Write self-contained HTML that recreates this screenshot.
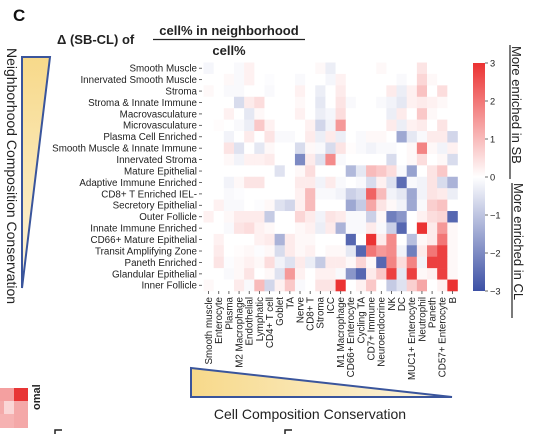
<!DOCTYPE html>
<html><head><meta charset="utf-8"><style>
html,body{margin:0;padding:0;background:#fff;}
svg{display:block;font-family:"Liberation Sans",sans-serif;}
</style></head><body>
<svg id="chart" width="546" height="434" viewBox="0 0 546 434">
<defs>
<linearGradient id="cbar" x1="0" y1="0" x2="0" y2="1">
<stop offset="0" stop-color="rgb(235,50,50)"/><stop offset="0.5" stop-color="#ffffff"/><stop offset="1" stop-color="rgb(60,80,165)"/>
</linearGradient>
<linearGradient id="tri-left" x1="0" y1="0" x2="0" y2="1">
<stop offset="0" stop-color="#f7d98a"/><stop offset="1" stop-color="#fdf4dc"/>
</linearGradient>
<linearGradient id="tri-bottom" x1="0" y1="0" x2="1" y2="0">
<stop offset="0" stop-color="#f7d98a"/><stop offset="1" stop-color="#fdf6e4"/>
</linearGradient>
</defs>
<text x="13" y="21" font-size="17" font-weight="bold" fill="#111">C</text>
<text x="57" y="44" font-size="13" font-weight="bold" fill="#222">Δ (SB-CL) of</text>
<text x="229" y="35" font-size="13" font-weight="bold" fill="#222" text-anchor="middle">cell% in neighborhood</text>
<line x1="153" y1="39.5" x2="305" y2="39.5" stroke="#222" stroke-width="1.2"/>
<text x="229" y="55" font-size="13" font-weight="bold" fill="#222" text-anchor="middle">cell%</text>

<text transform="translate(7,176) rotate(90)" font-size="14" fill="#222" text-anchor="middle">Neighborhood Composition Conservation</text>
<polygon points="22,57 50,57 22,288" fill="url(#tri-left)" stroke="#3a559c" stroke-width="2"/>

<polygon points="191,368 191,397 452,397" fill="url(#tri-bottom)" stroke="#3a559c" stroke-width="2"/>
<text x="310" y="419" font-size="14" fill="#222" text-anchor="middle">Cell Composition Conservation</text>

<g id="heat"></g>
<g id="rowlabels"></g>
<g id="collabels"></g>

<rect x="473" y="63" width="12" height="228" fill="url(#cbar)"/>
<g id="cbticks"></g>

<text transform="translate(512,46) rotate(90)" font-size="13" fill="#222">More enriched in SB</text>
<line x1="510" y1="45" x2="510" y2="179" stroke="#222" stroke-width="1.2"/>
<text transform="translate(514,183) rotate(90)" font-size="13" fill="#222">More enriched in CL</text>
<line x1="512" y1="183" x2="512" y2="318" stroke="#222" stroke-width="1.2"/>

<g>
<rect x="0" y="388" width="14" height="13" fill="#f4a0a0"/>
<rect x="14" y="388" width="14" height="13" fill="#e83535"/>
<rect x="0" y="401" width="4" height="13" fill="#f4aaaa"/>
<rect x="4" y="401" width="10" height="13" fill="#fad6d6"/>
<rect x="14" y="401" width="14" height="13" fill="#f4a8a8"/>
<rect x="0" y="414" width="14" height="14" fill="#f6b2b2"/>
<rect x="14" y="414" width="14" height="14" fill="#f4a8a8"/>
<text transform="translate(40,410) rotate(-90)" font-size="11" font-weight="bold" fill="#222">omal</text>
<path d="M55,434 V430 H62" stroke="#222" stroke-width="1.5" fill="none"/>
<path d="M285,434 V430 H292" stroke="#222" stroke-width="1.5" fill="none"/>
</g>
</svg>
<script>
const rowNames=["Smooth Muscle","Innervated Smooth Muscle","Stroma","Stroma & Innate Immune","Macrovasculature","Microvasculature","Plasma Cell Enriched","Smooth Muscle & Innate Immune","Innervated Stroma","Mature Epithelial","Adaptive Immune Enriched","CD8+ T Enriched IEL-","Secretory Epithelial","Outer Follicle","Innate Immune Enriched","CD66+ Mature Epithelial","Transit Amplifying Zone","Paneth Enriched","Glandular Epithelial","Inner Follicle"];
const colNames=["Smooth muscle","Enterocyte","Plasma","M2 Macrophage","Endothelial","Lymphatic","CD4+ T cell","Goblet","TA","Nerve","CD8+ T","Stroma","ICC","M1 Macrophage","CD66+ Enterocyte","Cycling TA","CD7+ Immune","Neuroendocrine","NK","DC","MUC1+ Enterocyte","Neutrophil","Paneth","CD57+ Enterocyte","B"];
const colorTicks=[3,2,1,0,-1,-2,-3];
const r0=[-0.15,0,0,-0.1,0.2,0,0,0,0,0,0,0.1,-0.3,0,0,0,0,0.1,0,0,0,0.4,0,0,0];
const r1=[0,0,0.1,-0.1,0.2,0,-0.05,0,0,-0.1,0,0,-0.15,0.2,0,0,0,0,0,-0.1,0,0.6,0.1,0,0];
const r2=[0.1,0,-0.1,-0.1,0,0,-0.1,0,0,0.2,0,-0.3,0,0.3,0,0,0,0,0.3,-0.3,0.2,0.9,0,0.5,0];
const r3=[0,0,0,-0.6,0.3,0.5,0,0,0,0.1,0,-0.4,0,0.4,-0.1,0,0,-0.1,-0.2,-0.4,0.2,0.3,0.2,0.1,0];
const r4=[0,0,0.2,0,-0.4,0.1,0,0,0,0.2,0,-0.3,-0.15,0.5,0,0,0,0,-0.3,0.3,0,0.8,0.1,0,0];
const r5=[0,0.05,0,-0.1,-0.3,0.8,0.2,0,0,0,0.2,-0.7,-0.2,1.5,0,0,0,0,0.3,-0.3,0.2,0.3,0,0.4,0];
const r6=[0,0,-0.2,0,0.3,0,0.4,-0.1,-0.1,0,0.3,-0.3,0.3,-0.3,0,-0.1,0.1,0.1,0,-1.5,-0.4,-0.1,0.3,0.3,-0.7];
const r7=[0,0,0.4,-0.5,0,-0.4,0.1,0,0,-0.6,0.1,-0.1,-0.6,0.4,0.05,-0.1,-0.2,-0.1,-0.1,0,0.1,1.8,0.1,-0.2,0.2];
const r8=[0,0,0.1,-0.2,0.2,0.2,0.3,0,0,-2.0,0.3,-0.5,1.7,-0.1,0,0,0,0,-0.6,0,0.1,0.5,0,0.1,-0.6];
const r9=[0,0,0,0,0,0,0,-0.5,0,0.1,0.5,0,0,0,-1.2,-0.4,1.0,0.8,0.5,-0.1,-1.6,0,0.4,0.8,0];
const r10=[0,0,-0.2,0.1,0.4,0.4,0,0,0,0.3,0.3,-0.2,0.3,-0.1,0,-0.1,-0.6,0.2,-0.5,-2.5,-0.1,-0.2,0.4,-0.6,-1.3];
const r11=[0,0,-0.1,-0.05,0,0,0,0,0,0.2,1.0,-0.1,-0.1,-0.2,-0.8,-0.6,2.3,1.0,-0.2,-0.4,-1.5,-0.2,0.4,0.3,-0.3];
const r12=[0,0.2,-0.1,-0.1,0,-0.05,0.1,-0.5,-0.7,0.2,1.0,0,0,0,-1.5,-0.9,1.3,0.4,0.1,-0.2,-1.5,-0.1,0.7,0.9,0];
const r13=[0.2,0,0.1,0.3,0.3,0.3,-0.9,0,0,0.6,0.3,-0.2,0.4,0.3,-0.1,-0.1,-0.8,0.1,-2.2,-1.8,0,0.2,0.5,0.6,-2.6];
const r14=[0,0,-0.1,0.4,0.5,0.2,0.1,0,0,0.1,0.2,-0.3,0.3,-1.3,-0.1,-0.1,0.3,-0.1,-0.8,-2.6,0,3.0,0.3,1.5,0.1];
const r15=[0,0.2,0,0,0,0.2,0.3,-1.3,0.3,0.1,0.1,0,0,0,-2.6,0,3.0,0.3,1.7,0,-1.1,0.1,0.3,2.0,0.1];
const r16=[0,0.3,0,0.05,0.1,-0.05,0.1,-0.6,0.3,0.1,0.2,0,0.1,0.1,-0.4,-2.6,2.0,1.5,1.7,-0.2,-2.2,0.3,2.0,2.8,0.1];
const r17=[0,0.4,-0.05,0.1,0.2,0.1,0.5,-0.2,-0.5,0.3,-0.3,-0.9,0.3,0.3,0.1,0.6,0.1,-2.6,1.8,0.5,1.8,-0.2,2.8,2.8,0.1];
const r18=[0,0,-0.1,0.1,0.4,0,0.1,-0.5,1.5,0.2,0,0.2,0.2,-0.1,-1.8,-2.6,0.3,0.8,2.8,-0.4,2.8,0.1,0.2,2.8,0.1];
const r19=[0.1,0,0,0.3,-0.1,1.0,-0.7,0.2,0.8,-0.1,0,0.4,0.4,3.0,0,0.2,0.8,0,-0.9,-0.5,0.7,1.3,0,0.2,3.0];
const values=[r0,r1,r2,r3,r4,r5,r6,r7,r8,r9,r10,r11,r12,r13,r14,r15,r16,r17,r18,r19];

const NS="http://www.w3.org/2000/svg";
const X0=203.5,X1=457.5,Y0=62.5,Y1=291;
const cw=(X1-X0)/colNames.length, rh=(Y1-Y0)/rowNames.length;
function xScale(i){return X0+i*cw;}
function yScale(j){return Y0+j*rh;}
function cbScale(v){return 63+(3-v)/6*228;}
function color(v){
  const t=Math.max(-1,Math.min(1,v/3));
  let c=t>=0?[235,50,50]:[60,80,165]; const a=Math.abs(t);
  return "rgb("+c.map(k=>Math.round(255+(k-255)*a)).join(",")+")";
}
const heat=document.getElementById('heat');
values.forEach((row,j)=>row.forEach((v,i)=>{
  const r=document.createElementNS(NS,'rect');
  r.setAttribute('x',xScale(i));r.setAttribute('y',yScale(j));
  r.setAttribute('width',cw+0.3);r.setAttribute('height',rh+0.3);
  r.setAttribute('fill',color(v));
  
  
  heat.appendChild(r);
}));
const rl=document.getElementById('rowlabels');
rowNames.forEach((n,j)=>{
  const y=yScale(j)+rh/2;
  const t=document.createElementNS(NS,'text');
  t.setAttribute('x',197);t.setAttribute('y',y+3.4);
  t.setAttribute('font-size','9.8');t.setAttribute('text-anchor','end');t.setAttribute('fill','#222');
  t.textContent=n;
  
  
  rl.appendChild(t);
  const l=document.createElementNS(NS,'line');
  l.setAttribute('x1',199);l.setAttribute('x2',202);l.setAttribute('y1',y);l.setAttribute('y2',y);
  l.setAttribute('stroke','#444');l.setAttribute('stroke-width','0.8');
  
  
  rl.appendChild(l);
});
const cl=document.getElementById('collabels');
colNames.forEach((n,i)=>{
  const x=xScale(i)+cw/2;
  const t=document.createElementNS(NS,'text');
  t.setAttribute('transform','translate('+(x+3.4)+',297) rotate(-90)');
  t.setAttribute('font-size','9.8');t.setAttribute('text-anchor','end');t.setAttribute('fill','#222');
  t.textContent=n;
  
  
  cl.appendChild(t);
  const l=document.createElementNS(NS,'line');
  l.setAttribute('x1',x);l.setAttribute('x2',x);l.setAttribute('y1',291);l.setAttribute('y2',294);
  l.setAttribute('stroke','#444');l.setAttribute('stroke-width','0.8');
  
  
  cl.appendChild(l);
});
const cb=document.getElementById('cbticks');
colorTicks.forEach(v=>{
  const y=cbScale(v);
  const l=document.createElementNS(NS,'line');
  l.setAttribute('x1',485);l.setAttribute('x2',488);l.setAttribute('y1',y);l.setAttribute('y2',y);
  l.setAttribute('stroke','#444');l.setAttribute('stroke-width','0.8');
  
  
  cb.appendChild(l);
  const t=document.createElementNS(NS,'text');
  t.setAttribute('x',490);t.setAttribute('y',y+3.3);t.setAttribute('font-size','9.3');t.setAttribute('fill','#222');
  t.textContent=v<0?'\u2212'+Math.abs(v):String(v);
  
  
  cb.appendChild(t);
});
</script>
</body></html>
